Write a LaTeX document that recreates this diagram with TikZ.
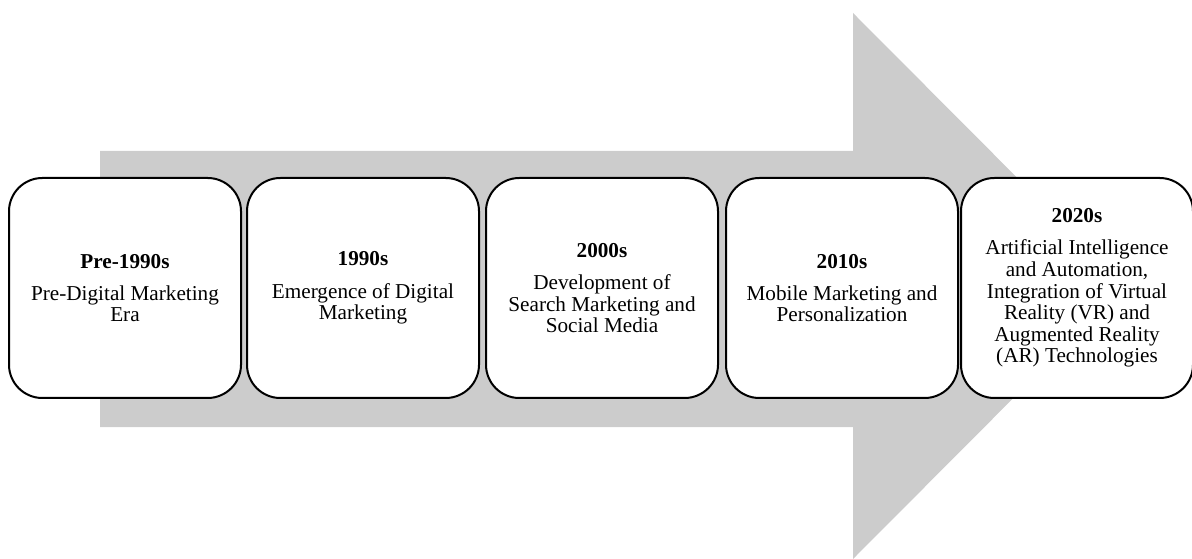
\documentclass[tikz,border=0pt]{standalone}
\usepackage{fontspec}
\setmainfont{Liberation Serif}
\usepackage{xcolor}
\usepackage{tikz}
\definecolor{okGri}{HTML}{CCCCCC}
\tikzset{
  donem/.style={draw=black,line width=1.5pt,fill=white,rounded corners=25pt,
    minimum width=174pt,minimum height=165pt,align=center,inner sep=2pt,
    font=\fontsize{15.9pt}{16.2pt}\selectfont}
}
\begin{document}
\begin{tikzpicture}[x=0.75pt,y=-0.75pt]
\useasboundingbox (0,0) rectangle (1192,559);
% arka plandaki buyuk ok
\fill[okGri] (100,151) -- (853,151) -- (853,13) -- (1125,286) -- (853,559) -- (853,427) -- (100,427) -- cycle;
% donem kutulari
\node[donem] (pre) at (125,288) {\textbf{Pre-1990s}\\[8pt]Pre-Digital Marketing\\Era};
\node[donem] (d1990) at (363,288) {\textbf{1990s}\\[8pt]Emergence of Digital\\Marketing};
\node[donem] (d2000) at (602,288) {\textbf{2000s}\\[8pt]Development of\\Search Marketing and\\Social Media};
\node[donem] (d2010) at (842,288) {\textbf{2010s}\\[8pt]Mobile Marketing and\\Personalization};
\node[donem] (d2020) at (1077,288) {\textbf{2020s}\\[8pt]Artificial Intelligence\\and Automation,\\Integration of Virtual\\Reality (VR) and\\Augmented Reality\\(AR) Technologies};
\end{tikzpicture}
\end{document}
